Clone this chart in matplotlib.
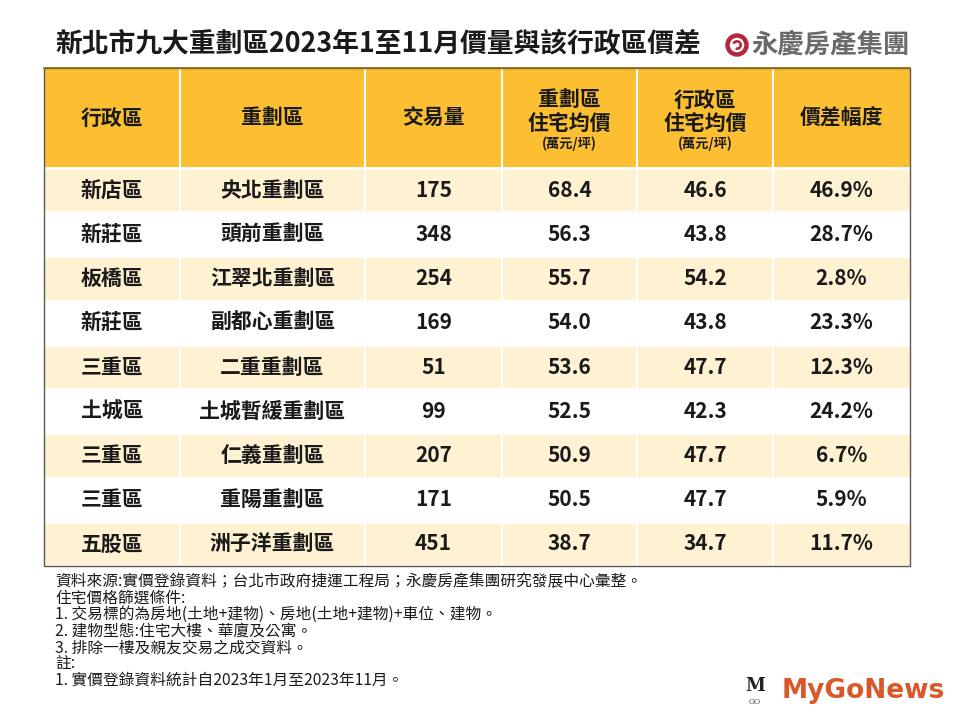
import matplotlib
matplotlib.use("Agg")
import matplotlib.pyplot as plt
from matplotlib.patches import Rectangle, Circle, Wedge
import numpy as np

plt.rcParams['font.family'] = ['Noto Sans CJK TC', 'DejaVu Sans']

# ---- data ----
title = "新北市九大重劃區2023年1至11月價量與該行政區價差"
brand = "永慶房產集團"
headers = ["行政區", "重劃區", "交易量", "重劃區\n住宅均價", "行政區\n住宅均價", "價差幅度"]
header_units = ["", "", "", "(萬元/坪)", "(萬元/坪)", ""]
districts = ["新店區", "新莊區", "板橋區", "新莊區", "三重區", "土城區", "三重區", "三重區", "五股區"]
zones = ["央北重劃區", "頭前重劃區", "江翠北重劃區", "副都心重劃區", "二重重劃區",
         "土城暫緩重劃區", "仁義重劃區", "重陽重劃區", "洲子洋重劃區"]
volumes = [175, 348, 254, 169, 51, 99, 207, 171, 451]
zone_price = [68.4, 56.3, 55.7, 54.0, 53.6, 52.5, 50.9, 50.5, 38.7]
district_price = [46.6, 43.8, 54.2, 43.8, 47.7, 42.3, 47.7, 47.7, 34.7]
diff_pct = [46.9, 28.7, 2.8, 23.3, 12.3, 24.2, 6.7, 5.9, 11.7]
notes = [
    "資料來源:實價登錄資料；台北市政府捷運工程局；永慶房產集團研究發展中心彙整。",
    "住宅價格篩選條件:",
    "1. 交易標的為房地(土地+建物)、房地(土地+建物)+車位、建物。",
    "2. 建物型態:住宅大樓、華廈及公寓。",
    "3. 排除一樓及親友交易之成交資料。",
    "註:",
    "1. 實價登錄資料統計自2023年1月至2023年11月。",
]

# ---- layout ----
W, H = 960, 720
col_edges = [44, 180, 365, 502, 637, 773, 910]
table_top, header_bottom, table_bottom = 68, 168, 566
header_color = "#FDBF32"
cream = "#FFF2D3"
text_color = "#1a1a1a"

fig = plt.figure(figsize=(W / 100, H / 100), dpi=100)
ax = fig.add_axes([0, 0, 1, 1])
ax.set_xlim(0, W)
ax.set_ylim(H, 0)
ax.axis("off")

n_rows = len(districts)
row_h = (table_bottom - header_bottom) / n_rows
centers = [(col_edges[i] + col_edges[i + 1]) / 2 for i in range(len(col_edges) - 1)]

# header background
ax.add_patch(Rectangle((col_edges[0], table_top), col_edges[-1] - col_edges[0],
                       header_bottom - table_top, facecolor=header_color, edgecolor="none", zorder=1))
# body rows
for r in range(n_rows):
    y0 = header_bottom + r * row_h
    fc = cream if r % 2 == 0 else "white"
    ax.add_patch(Rectangle((col_edges[0], y0), col_edges[-1] - col_edges[0], row_h,
                           facecolor=fc, edgecolor="none", zorder=1))
# white separators
for x in col_edges[1:-1]:
    ax.plot([x, x], [table_top, table_bottom], color="white", lw=1.5, zorder=2)
for r in range(n_rows + 1):
    y = header_bottom + r * row_h
    ax.plot([col_edges[0], col_edges[-1]], [y, y], color="white", lw=2, zorder=2)
# outer border
ax.add_patch(Rectangle((col_edges[0], table_top), col_edges[-1] - col_edges[0],
                       table_bottom - table_top, facecolor="none", edgecolor="#5a5a5a", lw=1.0, zorder=3))
ax.plot([col_edges[0], col_edges[-1]], [table_top, table_top], color="#8a6a10", lw=1.2, zorder=3)

FS = 15
# header text
hc = (table_top + header_bottom) / 2
for i, (h, u) in enumerate(zip(headers, header_units)):
    if u:
        l1, l2 = h.split("\n")
        ax.text(centers[i], 100, l1, ha="center", va="center", fontsize=FS,
                fontweight="bold", color=text_color, zorder=4)
        ax.text(centers[i], 123, l2, ha="center", va="center", fontsize=FS,
                fontweight="bold", color=text_color, zorder=4)
        ax.text(centers[i], 144, u, ha="center", va="center", fontsize=9.5,
                fontweight="bold", color=text_color, zorder=4)
    else:
        ax.text(centers[i], hc, h, ha="center", va="center", fontsize=FS,
                fontweight="bold", color=text_color, zorder=4)

# body text
for r in range(n_rows):
    yc = header_bottom + (r + 0.5) * row_h
    vals = [districts[r], zones[r], f"{volumes[r]}", f"{zone_price[r]:.1f}",
            f"{district_price[r]:.1f}", f"{diff_pct[r]:.1f}%"]
    for i, v in enumerate(vals):
        ax.text(centers[i], yc, v, ha="center", va="center", fontsize=FS,
                fontweight="bold", color=text_color, zorder=4)

# title
ax.text(55, 44, title, ha="left", va="center", fontsize=19.3, fontweight="bold",
        color="#1a1a1a")

# brand logo
ax.add_patch(Circle((737, 45), 9.5, facecolor="none", edgecolor="#B3283A", lw=3.2))
ax.add_patch(Wedge((737, 45), 5.0, 200, 470, width=2.6, facecolor="#B3283A", edgecolor="none"))
ax.text(751, 45, brand, ha="left", va="center", fontsize=19, fontweight="bold",
        color="#6a6a6a")

# notes
y = 582
for line in notes:
    ax.text(55, y, line, ha="left", va="center", fontsize=11.3, color="#1a1a1a")
    y += 16.4

# watermark
ax.text(782, 691, "MyGoNews", ha="left", va="center", fontsize=19, fontweight="bold",
        color="#D9582A", family=["DejaVu Sans"])
ax.text(755, 686, "M", ha="center", va="center", fontsize=13, fontweight="bold",
        color="#222222", family=["DejaVu Serif"])
ax.text(755, 702, "GO", ha="center", va="center", fontsize=5.5, color="#444444",
        family=["DejaVu Serif"])

fig.savefig("out.png", dpi=100, facecolor="white")
